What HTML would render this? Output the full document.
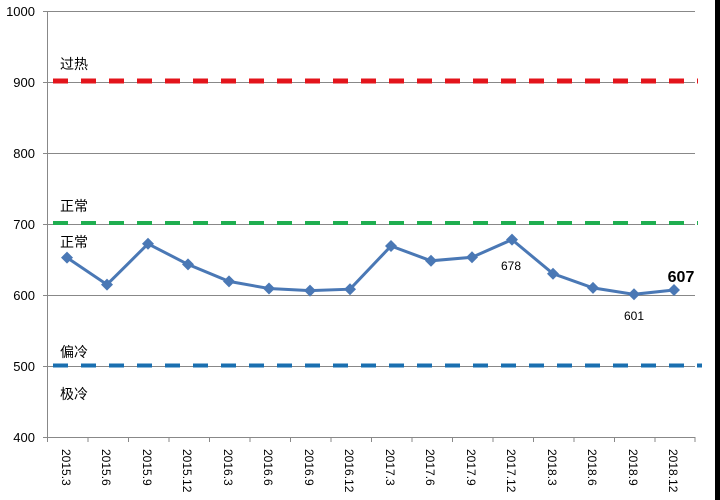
<!DOCTYPE html>
<html><head><meta charset="utf-8"><style>body{margin:0;background:#fff}svg{display:block}</style></head><body>
<svg width="720" height="500" xmlns="http://www.w3.org/2000/svg" font-family="Liberation Sans, Noto Sans CJK SC, sans-serif">
<rect width="720" height="500" fill="#fff"/>
<rect x="715" y="0" width="5" height="500" fill="#000"/>
<g stroke="#888" stroke-width="1">
<line x1="47" y1="11.5" x2="695" y2="11.5"/>
<line x1="47" y1="82.5" x2="695" y2="82.5"/>
<line x1="47" y1="153.5" x2="695" y2="153.5"/>
<line x1="47" y1="224.5" x2="695" y2="224.5"/>
<line x1="47" y1="295.5" x2="695" y2="295.5"/>
<line x1="47" y1="366.5" x2="695" y2="366.5"/>
<line x1="43" y1="437.5" x2="695" y2="437.5"/>
<line x1="47.5" y1="11" x2="47.5" y2="437"/>
<g id="t"></g>
</g>
<g stroke="#888">
<line x1="43" y1="11.5" x2="47" y2="11.5"/><line x1="43" y1="82.5" x2="47" y2="82.5"/><line x1="43" y1="153.5" x2="47" y2="153.5"/><line x1="43" y1="224.5" x2="47" y2="224.5"/><line x1="43" y1="295.5" x2="47" y2="295.5"/><line x1="43" y1="366.5" x2="47" y2="366.5"/>
<line x1="47.5" y1="437" x2="47.5" y2="442"/><line x1="88" y1="437" x2="88" y2="442"/><line x1="128.5" y1="437" x2="128.5" y2="442"/><line x1="169" y1="437" x2="169" y2="442"/><line x1="209.5" y1="437" x2="209.5" y2="442"/><line x1="250" y1="437" x2="250" y2="442"/><line x1="290.5" y1="437" x2="290.5" y2="442"/><line x1="331" y1="437" x2="331" y2="442"/><line x1="371.5" y1="437" x2="371.5" y2="442"/><line x1="412" y1="437" x2="412" y2="442"/><line x1="452.5" y1="437" x2="452.5" y2="442"/><line x1="493" y1="437" x2="493" y2="442"/><line x1="533.5" y1="437" x2="533.5" y2="442"/><line x1="574" y1="437" x2="574" y2="442"/><line x1="614.5" y1="437" x2="614.5" y2="442"/><line x1="655" y1="437" x2="655" y2="442"/><line x1="695" y1="437" x2="695" y2="442"/>
</g>
<g font-size="13" fill="#000" text-anchor="end">
<text x="35" y="16">1000</text><text x="35" y="87">900</text><text x="35" y="158">800</text><text x="35" y="229">700</text><text x="35" y="300">600</text><text x="35" y="371">500</text><text x="35" y="442">400</text>
</g>
<line x1="53" y1="81" x2="698" y2="81" stroke="#e3141b" stroke-width="5" stroke-dasharray="15,13"/>
<line x1="53" y1="223" x2="698" y2="223" stroke="#1fae50" stroke-width="4" stroke-dasharray="15,13"/>
<line x1="53" y1="365.5" x2="702" y2="365.5" stroke="#1a6fb0" stroke-width="4" stroke-dasharray="15,13"/>
<g font-size="14" fill="#000">
<text x="60" y="69">过热</text><text x="60" y="211">正常</text><text x="60" y="247">正常</text><text x="60" y="357">偏冷</text><text x="60" y="399">极冷</text>
</g>
<polyline fill="none" stroke="#4a78b5" stroke-width="3" points="67,257.6 107,284.6 148,243.8 188,264.4 229,281.4 269,288.5 310,290.6 350,289.2 391,246 431,260.8 472,257.3 512,239.6 553,273.7 593,287.9 634,294.3 674,290"/>
<g fill="#4a78b5">
<path d="M67,251.6l6,6-6,6-6-6z"/><path d="M107,278.6l6,6-6,6-6-6z"/><path d="M148,237.8l6,6-6,6-6-6z"/><path d="M188,258.4l6,6-6,6-6-6z"/><path d="M229,275.4l6,6-6,6-6-6z"/><path d="M269,282.5l6,6-6,6-6-6z"/><path d="M310,284.6l6,6-6,6-6-6z"/><path d="M350,283.2l6,6-6,6-6-6z"/><path d="M391,240l6,6-6,6-6-6z"/><path d="M431,254.8l6,6-6,6-6-6z"/><path d="M472,251.3l6,6-6,6-6-6z"/><path d="M512,233.6l6,6-6,6-6-6z"/><path d="M553,267.7l6,6-6,6-6-6z"/><path d="M593,281.9l6,6-6,6-6-6z"/><path d="M634,288.3l6,6-6,6-6-6z"/><path d="M674,284l6,6-6,6-6-6z"/>
</g>
<text x="511" y="270" font-size="12" text-anchor="middle">678</text>
<text x="634" y="320" font-size="12" text-anchor="middle">601</text>
<text x="681" y="282" font-size="16" font-weight="bold" text-anchor="middle">607</text>
<g font-size="12" fill="#000">
<text transform="translate(62,449) rotate(90)">2015.3</text>
<text transform="translate(102,449) rotate(90)">2015.6</text>
<text transform="translate(143,449) rotate(90)">2015.9</text>
<text transform="translate(183,449) rotate(90)">2015.12</text>
<text transform="translate(224,449) rotate(90)">2016.3</text>
<text transform="translate(264,449) rotate(90)">2016.6</text>
<text transform="translate(305,449) rotate(90)">2016.9</text>
<text transform="translate(345,449) rotate(90)">2016.12</text>
<text transform="translate(386,449) rotate(90)">2017.3</text>
<text transform="translate(426,449) rotate(90)">2017.6</text>
<text transform="translate(467,449) rotate(90)">2017.9</text>
<text transform="translate(507,449) rotate(90)">2017.12</text>
<text transform="translate(548,449) rotate(90)">2018.3</text>
<text transform="translate(588,449) rotate(90)">2018.6</text>
<text transform="translate(629,449) rotate(90)">2018.9</text>
<text transform="translate(669,449) rotate(90)">2018.12</text>
</g>
</svg>
</body></html>
